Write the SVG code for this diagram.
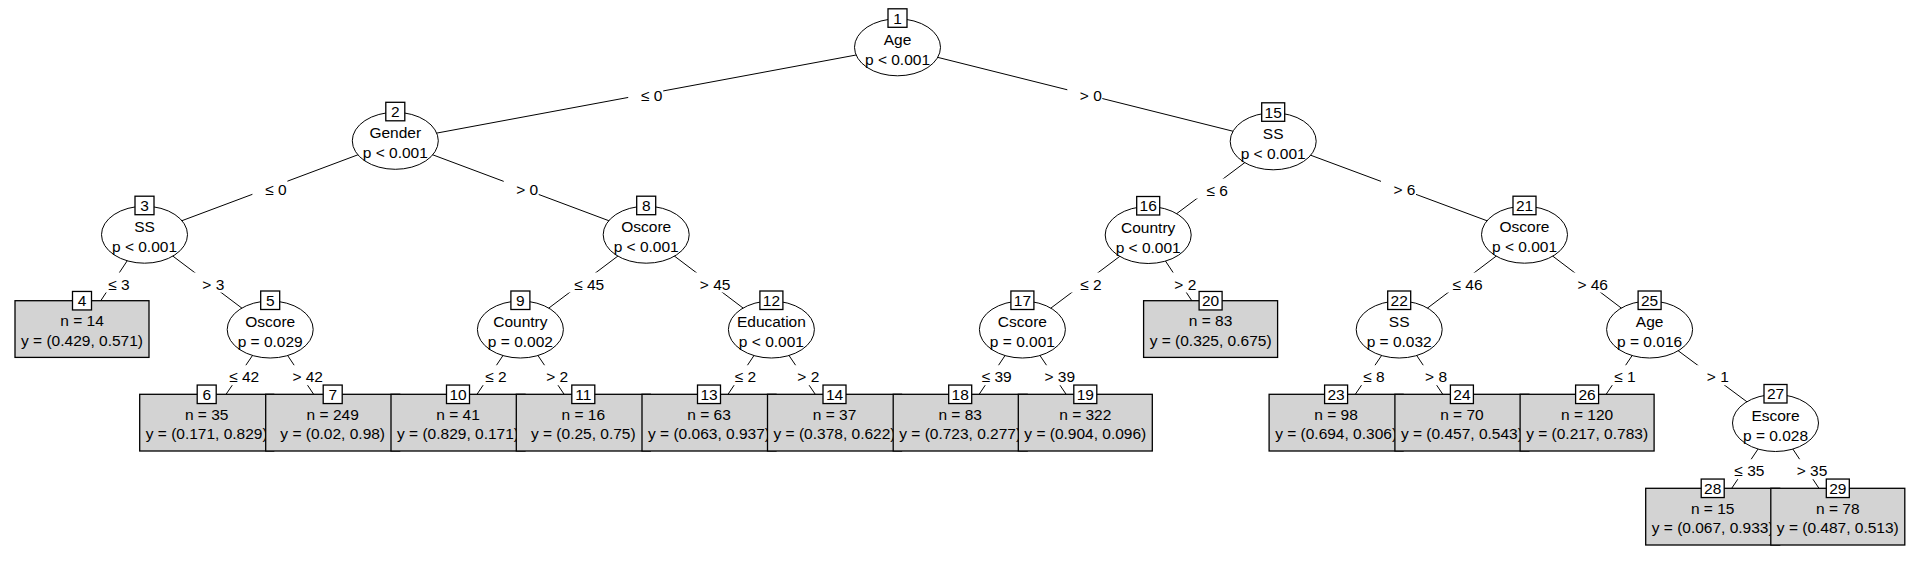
<svg xmlns="http://www.w3.org/2000/svg" width="1920" height="583" viewBox="0 0 1920 583">
<style>
text{font-family:"Liberation Sans",Arial,sans-serif;font-size:15.5px;text-anchor:middle;fill:#000}
.e{stroke:#000;stroke-width:1;fill:none}
.lb{fill:#fff}
ellipse{fill:#fff;stroke:#000;stroke-width:1}
.idb{fill:#fff;stroke:#000;stroke-width:1.3}
.leaf{fill:#d3d3d3;stroke:#000;stroke-width:1.3}
</style>
<rect width="1920" height="583" fill="#fff"/>
<g id="connectors">
<line class="e" x1="897.5" y1="47.3" x2="395.3" y2="140.8"/>
<line class="e" x1="897.5" y1="47.3" x2="1273.2" y2="141.3"/>
<line class="e" x1="395.3" y1="140.8" x2="144.5" y2="234.7"/>
<line class="e" x1="395.3" y1="140.8" x2="646.2" y2="234.7"/>
<line class="e" x1="1273.2" y1="141.3" x2="1148.2" y2="235"/>
<line class="e" x1="1273.2" y1="141.3" x2="1524.5" y2="234.7"/>
<line class="e" x1="144.5" y1="234.7" x2="82" y2="329"/>
<line class="e" x1="144.5" y1="234.7" x2="270.2" y2="329.5"/>
<line class="e" x1="646.2" y1="234.7" x2="520.4" y2="329.5"/>
<line class="e" x1="646.2" y1="234.7" x2="771.4" y2="329.5"/>
<line class="e" x1="1148.2" y1="235" x2="1022.4" y2="329.5"/>
<line class="e" x1="1148.2" y1="235" x2="1210.6" y2="329"/>
<line class="e" x1="1524.5" y1="234.7" x2="1399.2" y2="329.5"/>
<line class="e" x1="1524.5" y1="234.7" x2="1649.6" y2="329.5"/>
<line class="e" x1="270.2" y1="329.5" x2="206.7" y2="422.7"/>
<line class="e" x1="270.2" y1="329.5" x2="332.7" y2="422.7"/>
<line class="e" x1="520.4" y1="329.5" x2="458" y2="422.7"/>
<line class="e" x1="520.4" y1="329.5" x2="583.3" y2="422.7"/>
<line class="e" x1="771.4" y1="329.5" x2="709" y2="422.7"/>
<line class="e" x1="771.4" y1="329.5" x2="834.5" y2="422.7"/>
<line class="e" x1="1022.4" y1="329.5" x2="960.2" y2="422.7"/>
<line class="e" x1="1022.4" y1="329.5" x2="1085.3" y2="422.7"/>
<line class="e" x1="1399.2" y1="329.5" x2="1336.1" y2="422.7"/>
<line class="e" x1="1399.2" y1="329.5" x2="1461.9" y2="422.7"/>
<line class="e" x1="1649.6" y1="329.5" x2="1587.1" y2="422.7"/>
<line class="e" x1="1649.6" y1="329.5" x2="1775.5" y2="423"/>
<line class="e" x1="1775.5" y1="423" x2="1712.7" y2="516.6"/>
<line class="e" x1="1775.5" y1="423" x2="1837.8" y2="516.6"/>
<rect class="lb" x="628.2" y="83.5" width="35" height="20"/><text x="651.7" y="100.5">≤ 0</text>
<rect class="lb" x="1067.3" y="83.5" width="35" height="20"/><text x="1090.8" y="100.5">&gt; 0</text>
<rect class="lb" x="252.4" y="178" width="35" height="20"/><text x="275.9" y="195">≤ 0</text>
<rect class="lb" x="503.7" y="178" width="35" height="20"/><text x="527.2" y="195">&gt; 0</text>
<rect class="lb" x="1193.7" y="178.5" width="35" height="20"/><text x="1217.2" y="195.5">≤ 6</text>
<rect class="lb" x="1381" y="178" width="35" height="20"/><text x="1404.5" y="195">&gt; 6</text>
<rect class="lb" x="95.5" y="272.5" width="35" height="20"/><text x="119" y="289.5">≤ 3</text>
<rect class="lb" x="189.8" y="272.5" width="35" height="20"/><text x="213.3" y="289.5">&gt; 3</text>
<rect class="lb" x="561.2" y="272.5" width="44" height="20"/><text x="589.2" y="289.5">≤ 45</text>
<rect class="lb" x="687.1" y="272.5" width="44" height="20"/><text x="715.1" y="289.5">&gt; 45</text>
<rect class="lb" x="1067.5" y="272.5" width="35" height="20"/><text x="1091" y="289.5">≤ 2</text>
<rect class="lb" x="1161.8" y="272.5" width="35" height="20"/><text x="1185.3" y="289.5">&gt; 2</text>
<rect class="lb" x="1439.5" y="272.5" width="44" height="20"/><text x="1467.5" y="289.5">≤ 46</text>
<rect class="lb" x="1564.7" y="272.5" width="44" height="20"/><text x="1592.7" y="289.5">&gt; 46</text>
<rect class="lb" x="216.2" y="365.2" width="44" height="20"/><text x="244.2" y="382.2">≤ 42</text>
<rect class="lb" x="279.7" y="365.2" width="44" height="20"/><text x="307.7" y="382.2">&gt; 42</text>
<rect class="lb" x="472.4" y="365.2" width="35" height="20"/><text x="495.9" y="382.2">≤ 2</text>
<rect class="lb" x="533.7" y="365.2" width="35" height="20"/><text x="557.2" y="382.2">&gt; 2</text>
<rect class="lb" x="722" y="365.2" width="35" height="20"/><text x="745.5" y="382.2">≤ 2</text>
<rect class="lb" x="784.8" y="365.2" width="35" height="20"/><text x="808.3" y="382.2">&gt; 2</text>
<rect class="lb" x="968.7" y="365.2" width="44" height="20"/><text x="996.7" y="382.2">≤ 39</text>
<rect class="lb" x="1031.8" y="365.2" width="44" height="20"/><text x="1059.8" y="382.2">&gt; 39</text>
<rect class="lb" x="1350.4" y="365.2" width="35" height="20"/><text x="1373.9" y="382.2">≤ 8</text>
<rect class="lb" x="1412.6" y="365.2" width="35" height="20"/><text x="1436.1" y="382.2">&gt; 8</text>
<rect class="lb" x="1601.4" y="365.2" width="35" height="20"/><text x="1624.9" y="382.2">≤ 1</text>
<rect class="lb" x="1694.3" y="365.2" width="35" height="20"/><text x="1717.8" y="382.2">&gt; 1</text>
<rect class="lb" x="1721.4" y="459.2" width="44" height="20"/><text x="1749.4" y="476.2">≤ 35</text>
<rect class="lb" x="1784" y="459.2" width="44" height="20"/><text x="1812" y="476.2">&gt; 35</text>
</g>
<g id="node1"><ellipse cx="897.5" cy="47.3" rx="43" ry="28.5"/><rect class="idb" x="888" y="8.8" width="19" height="18.5"/><text x="897.5" y="23.55">1</text><text x="897.5" y="44.8">Age</text><text x="897.5" y="64.8">p &lt; 0.001</text></g>
<g id="node2"><ellipse cx="395.3" cy="140.8" rx="43" ry="28.5"/><rect class="idb" x="385.8" y="102.3" width="19" height="18.5"/><text x="395.3" y="117.05">2</text><text x="395.3" y="138.3">Gender</text><text x="395.3" y="158.3">p &lt; 0.001</text></g>
<g id="node3"><ellipse cx="144.5" cy="234.7" rx="43" ry="28.5"/><rect class="idb" x="135" y="196.2" width="19" height="18.5"/><text x="144.5" y="210.95">3</text><text x="144.5" y="232.2">SS</text><text x="144.5" y="252.2">p &lt; 0.001</text></g>
<g id="node4"><rect class="leaf" x="15" y="300.7" width="134" height="56.7"/><rect class="idb" x="72.5" y="291.45" width="19" height="18.5"/><text x="82" y="306.2">4</text><text x="82" y="326.2">n = 14</text><text x="82" y="345.7">y = (0.429, 0.571)</text></g>
<g id="node5"><ellipse cx="270.2" cy="329.5" rx="43" ry="28.5"/><rect class="idb" x="260.7" y="291" width="19" height="18.5"/><text x="270.2" y="305.75">5</text><text x="270.2" y="327">Oscore</text><text x="270.2" y="347">p = 0.029</text></g>
<g id="node6"><rect class="leaf" x="139.7" y="394.3" width="134" height="56.7"/><rect class="idb" x="197.2" y="385.05" width="19" height="18.5"/><text x="206.7" y="399.8">6</text><text x="206.7" y="419.8">n = 35</text><text x="206.7" y="439.3">y = (0.171, 0.829)</text></g>
<g id="node7"><rect class="leaf" x="265.7" y="394.3" width="134" height="56.7"/><rect class="idb" x="323.2" y="385.05" width="19" height="18.5"/><text x="332.7" y="399.8">7</text><text x="332.7" y="419.8">n = 249</text><text x="332.7" y="439.3">y = (0.02, 0.98)</text></g>
<g id="node8"><ellipse cx="646.2" cy="234.7" rx="43" ry="28.5"/><rect class="idb" x="636.7" y="196.2" width="19" height="18.5"/><text x="646.2" y="210.95">8</text><text x="646.2" y="232.2">Oscore</text><text x="646.2" y="252.2">p &lt; 0.001</text></g>
<g id="node9"><ellipse cx="520.4" cy="329.5" rx="43" ry="28.5"/><rect class="idb" x="510.9" y="291" width="19" height="18.5"/><text x="520.4" y="305.75">9</text><text x="520.4" y="327">Country</text><text x="520.4" y="347">p = 0.002</text></g>
<g id="node10"><rect class="leaf" x="391" y="394.3" width="134" height="56.7"/><rect class="idb" x="446.5" y="385.05" width="23" height="18.5"/><text x="458" y="399.8">10</text><text x="458" y="419.8">n = 41</text><text x="458" y="439.3">y = (0.829, 0.171)</text></g>
<g id="node11"><rect class="leaf" x="516.3" y="394.3" width="134" height="56.7"/><rect class="idb" x="571.8" y="385.05" width="23" height="18.5"/><text x="583.3" y="399.8">11</text><text x="583.3" y="419.8">n = 16</text><text x="583.3" y="439.3">y = (0.25, 0.75)</text></g>
<g id="node12"><ellipse cx="771.4" cy="329.5" rx="43" ry="28.5"/><rect class="idb" x="759.9" y="291" width="23" height="18.5"/><text x="771.4" y="305.75">12</text><text x="771.4" y="327">Education</text><text x="771.4" y="347">p &lt; 0.001</text></g>
<g id="node13"><rect class="leaf" x="642" y="394.3" width="134" height="56.7"/><rect class="idb" x="697.5" y="385.05" width="23" height="18.5"/><text x="709" y="399.8">13</text><text x="709" y="419.8">n = 63</text><text x="709" y="439.3">y = (0.063, 0.937)</text></g>
<g id="node14"><rect class="leaf" x="767.5" y="394.3" width="134" height="56.7"/><rect class="idb" x="823" y="385.05" width="23" height="18.5"/><text x="834.5" y="399.8">14</text><text x="834.5" y="419.8">n = 37</text><text x="834.5" y="439.3">y = (0.378, 0.622)</text></g>
<g id="node15"><ellipse cx="1273.2" cy="141.3" rx="43" ry="28.5"/><rect class="idb" x="1261.7" y="102.8" width="23" height="18.5"/><text x="1273.2" y="117.55">15</text><text x="1273.2" y="138.8">SS</text><text x="1273.2" y="158.8">p &lt; 0.001</text></g>
<g id="node16"><ellipse cx="1148.2" cy="235" rx="43" ry="28.5"/><rect class="idb" x="1136.7" y="196.5" width="23" height="18.5"/><text x="1148.2" y="211.25">16</text><text x="1148.2" y="232.5">Country</text><text x="1148.2" y="252.5">p &lt; 0.001</text></g>
<g id="node17"><ellipse cx="1022.4" cy="329.5" rx="43" ry="28.5"/><rect class="idb" x="1010.9" y="291" width="23" height="18.5"/><text x="1022.4" y="305.75">17</text><text x="1022.4" y="327">Cscore</text><text x="1022.4" y="347">p = 0.001</text></g>
<g id="node18"><rect class="leaf" x="893.2" y="394.3" width="134" height="56.7"/><rect class="idb" x="948.7" y="385.05" width="23" height="18.5"/><text x="960.2" y="399.8">18</text><text x="960.2" y="419.8">n = 83</text><text x="960.2" y="439.3">y = (0.723, 0.277)</text></g>
<g id="node19"><rect class="leaf" x="1018.3" y="394.3" width="134" height="56.7"/><rect class="idb" x="1073.8" y="385.05" width="23" height="18.5"/><text x="1085.3" y="399.8">19</text><text x="1085.3" y="419.8">n = 322</text><text x="1085.3" y="439.3">y = (0.904, 0.096)</text></g>
<g id="node20"><rect class="leaf" x="1143.6" y="300.7" width="134" height="56.7"/><rect class="idb" x="1199.1" y="291.45" width="23" height="18.5"/><text x="1210.6" y="306.2">20</text><text x="1210.6" y="326.2">n = 83</text><text x="1210.6" y="345.7">y = (0.325, 0.675)</text></g>
<g id="node21"><ellipse cx="1524.5" cy="234.7" rx="43" ry="28.5"/><rect class="idb" x="1513" y="196.2" width="23" height="18.5"/><text x="1524.5" y="210.95">21</text><text x="1524.5" y="232.2">Oscore</text><text x="1524.5" y="252.2">p &lt; 0.001</text></g>
<g id="node22"><ellipse cx="1399.2" cy="329.5" rx="43" ry="28.5"/><rect class="idb" x="1387.7" y="291" width="23" height="18.5"/><text x="1399.2" y="305.75">22</text><text x="1399.2" y="327">SS</text><text x="1399.2" y="347">p = 0.032</text></g>
<g id="node23"><rect class="leaf" x="1269.1" y="394.3" width="134" height="56.7"/><rect class="idb" x="1324.6" y="385.05" width="23" height="18.5"/><text x="1336.1" y="399.8">23</text><text x="1336.1" y="419.8">n = 98</text><text x="1336.1" y="439.3">y = (0.694, 0.306)</text></g>
<g id="node24"><rect class="leaf" x="1394.9" y="394.3" width="134" height="56.7"/><rect class="idb" x="1450.4" y="385.05" width="23" height="18.5"/><text x="1461.9" y="399.8">24</text><text x="1461.9" y="419.8">n = 70</text><text x="1461.9" y="439.3">y = (0.457, 0.543)</text></g>
<g id="node25"><ellipse cx="1649.6" cy="329.5" rx="43" ry="28.5"/><rect class="idb" x="1638.1" y="291" width="23" height="18.5"/><text x="1649.6" y="305.75">25</text><text x="1649.6" y="327">Age</text><text x="1649.6" y="347">p = 0.016</text></g>
<g id="node26"><rect class="leaf" x="1520.1" y="394.3" width="134" height="56.7"/><rect class="idb" x="1575.6" y="385.05" width="23" height="18.5"/><text x="1587.1" y="399.8">26</text><text x="1587.1" y="419.8">n = 120</text><text x="1587.1" y="439.3">y = (0.217, 0.783)</text></g>
<g id="node27"><ellipse cx="1775.5" cy="423" rx="43" ry="28.5"/><rect class="idb" x="1764" y="384.5" width="23" height="18.5"/><text x="1775.5" y="399.25">27</text><text x="1775.5" y="420.5">Escore</text><text x="1775.5" y="440.5">p = 0.028</text></g>
<g id="node28"><rect class="leaf" x="1645.7" y="488.3" width="134" height="56.7"/><rect class="idb" x="1701.2" y="479.05" width="23" height="18.5"/><text x="1712.7" y="493.8">28</text><text x="1712.7" y="513.8">n = 15</text><text x="1712.7" y="533.3">y = (0.067, 0.933)</text></g>
<g id="node29"><rect class="leaf" x="1770.8" y="488.3" width="134" height="56.7"/><rect class="idb" x="1826.3" y="479.05" width="23" height="18.5"/><text x="1837.8" y="493.8">29</text><text x="1837.8" y="513.8">n = 78</text><text x="1837.8" y="533.3">y = (0.487, 0.513)</text></g>
</svg>
